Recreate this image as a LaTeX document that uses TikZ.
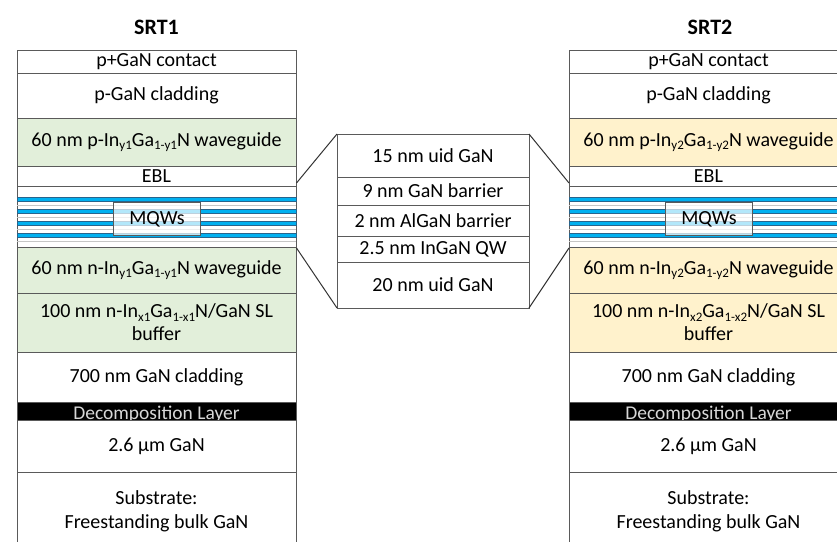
\documentclass[tikz,border=0pt]{standalone}
\usepackage{fontspec}
\setmainfont{Carlito}
\definecolor{lc}{RGB}{90,90,90}
\definecolor{gfill}{HTML}{E2EFDA}
\definecolor{yfill}{HTML}{FFF2CC}
\definecolor{qwblue}{HTML}{00B0F0}
\definecolor{qwedge}{RGB}{40,100,140}
\definecolor{dltext}{RGB}{215,215,215}
\newcommand\bodyfont{\fontsize{20}{23}\selectfont}
\newcommand\sbs[1]{\raisebox{-0.35ex}{\fontsize{13}{13}\selectfont #1}}
\tikzset{
  lay/.style={draw=lc, line width=1pt, inner sep=0pt, outer sep=0pt, anchor=north west,
              minimum width=279pt, align=center, font=\bodyfont},
  cbox/.style={draw=lc, line width=1pt, inner sep=0pt, outer sep=0pt, anchor=north west,
              minimum width=192pt, align=center, font=\bodyfont, fill=white},
  title/.style={font=\fontsize{22}{24}\selectfont\bfseries},
  band/.style={fill=qwblue, draw=qwedge, line width=0.8pt},
  thin/.style={draw=gray!45, line width=0.6pt},
  mqbox/.style={draw=lc, line width=1pt, fill=white, fill opacity=0.7, text opacity=1,
              inner sep=0pt, anchor=north west, minimum width=87pt, minimum height=33pt, font=\bodyfont},
  funnel/.style={draw=black!80, line width=1pt},
}
\begin{document}
\begin{tikzpicture}[x=1pt,y=-1pt]
\useasboundingbox (0,0) rectangle (837,541);
\clip (0,0) rectangle (837,541);
\fill[white] (0,0) rectangle (837,541);

% titles
\node[title] (t1) at (156.5,27) {SRT1};
\node[title] (t2) at (710,27) {SRT2};

% ---------- stacks ----------
\foreach \x/\s/\fc/\n in {17/1/gfill/1, 569/2/yfill/2}{
  \node[lay, minimum height=23pt] (c\n) at (\x,50) {p+GaN contact};
  \node[lay, minimum height=45pt] (pc\n) at (\x,73) {p-GaN cladding};
  \node[lay, minimum height=48pt, fill=\fc] (pw\n) at (\x,118)
     {60 nm p-In\sbs{y\s}Ga\sbs{1-y\s}N waveguide};
  \node[lay, minimum height=20pt] (ebl\n) at (\x,166) {EBL};
  \node[lay, minimum height=61pt, fill=white] (mq\n) at (\x,186) {};
  \foreach \yy in {205.5,217.5,229.5,241.5}{
    \draw[thin] (\x,\yy) -- ++(279,0);
  }
  \foreach \yy in {199.5,211.5,223.5,235.5}{
    \draw[band] (\x,\yy-2.2) rectangle ++(279,4.4);
  }
  \node[mqbox] (mqw\n) at (\x+96,202) {MQWs};
  \node[lay, minimum height=46pt, fill=\fc] (nw\n) at (\x,247)
     {60 nm n-In\sbs{y\s}Ga\sbs{1-y\s}N waveguide};
  \node[lay, minimum height=59pt, fill=\fc] (sl\n) at (\x,293)
     {100 nm n-In\sbs{x\s}Ga\sbs{1-x\s}N/GaN SL\\buffer};
  \node[lay, minimum height=50pt] (gc\n) at (\x,352) {700 nm GaN cladding};
  \node[lay, minimum height=18pt, fill=black] (dl\n) at (\x,402) {};
  \node[font=\fontsize{19.5}{20}\selectfont, text=dltext, anchor=base, inner sep=0pt]
     (dlt\n) at (\x+139.5,419) {Decomposition Layer};
  \node[lay, minimum height=52pt, fill=white] (g\n) at (\x,420) {2.6 µm GaN};
  \node[lay, minimum height=76pt, fill=white, text depth=0pt] (sub\n) at (\x,472)
     {Substrate:\\[1pt]Freestanding bulk GaN};
}

% ---------- centre box ----------
\node[cbox, minimum height=43pt] (u15) at (337,134) {15 nm uid GaN};
\node[cbox, minimum height=28pt] (b9) at (337,177) {9 nm GaN barrier};
\node[cbox, minimum height=31pt] (b2) at (337,205) {2 nm AlGaN barrier};
\node[cbox, minimum height=26pt] (qw) at (337,236) {2.5 nm InGaN QW};
\node[cbox, minimum height=46pt] (u20) at (337,262) {20 nm uid GaN};

% funnel lines
\coordinate (fl1) at (296.5,183);
\coordinate (fl2) at (296.5,248);
\coordinate (fr1) at (569,183);
\coordinate (fr2) at (569,248);
\draw[funnel] (fl1) -- (u15.north west);
\draw[funnel] (fl2) -- (u20.south west);
\draw[funnel] (fr1) -- (u15.north east);
\draw[funnel] (fr2) -- (u20.south east);
\end{tikzpicture}
\end{document}
